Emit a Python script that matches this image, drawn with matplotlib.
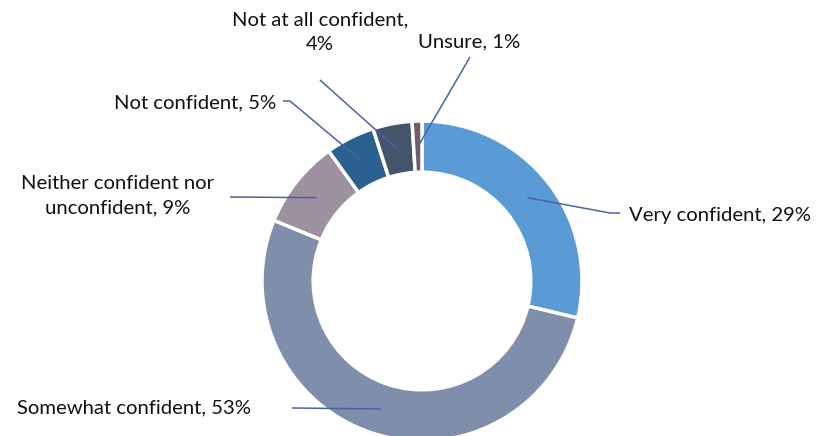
import numpy as np
import matplotlib.pyplot as plt

plt.rcParams["font.family"] = ["Lato", "DejaVu Sans"]

labels = ["Very confident", "Somewhat confident", "Neither confident nor\nunconfident",
          "Not confident", "Not at all confident,\n", "Unsure"]
values = [29, 53, 9, 5, 4, 1]
colors = ["#5b9bd5", "#7f8fab", "#9e919f", "#2c6090", "#44546a", "#6f5f64"]

# label layout in pixel space (x, y from top): text position, alignment, elbow points
layout = [
    dict(text=(629, 215), ha="left", path=[(610, 213), (620, 213)]),
    dict(text=(17, 408), ha="left", path=[(292, 408)]),
    dict(text=(118, 196), ha="center", path=[(230, 197)]),
    dict(text=(276, 103), ha="right", path=[(290, 101), (283, 101)]),
    dict(text=(320, 32), ha="center", path=[(320, 80)]),
    dict(text=(418, 42), ha="left", path=[(470, 57)]),
]

W, H = 817, 436
cx, cy, R = 422, 281, 160

fig = plt.figure(figsize=(W / 100, H / 100), dpi=100)
ax = fig.add_axes([0, 0, 1, 1])
ax.set_xlim(0, W)
ax.set_ylim(0, H)
ax.axis("off")

wedges, _ = ax.pie(values, colors=colors, startangle=90, counterclock=False,
                   center=(cx, H - cy), radius=R,
                   wedgeprops=dict(width=R * 0.32, edgecolor="white", linewidth=2.5))
ax.set_xlim(0, W)
ax.set_ylim(0, H)

for w, lab, val, lay in zip(wedges, labels, values, layout):
    ang = np.deg2rad((w.theta1 + w.theta2) / 2)
    r = R * 0.84
    x0 = cx + r * np.cos(ang)
    y0 = (H - cy) + r * np.sin(ang)
    xs = [x0] + [p[0] for p in lay["path"]]
    ys = [y0] + [H - p[1] for p in lay["path"]]
    ax.plot(xs, ys, color="#4a62a6", lw=1.1, solid_capstyle="butt")
    if lab.endswith("\n"):
        txt = f"{lab[:-1]}\n{val}%"
    else:
        txt = f"{lab}, {val}%"
    ax.text(lay["text"][0], H - lay["text"][1], txt, ha=lay["ha"], va="center",
            fontsize=14.6, color="#111111", linespacing=1.55,
            multialignment="center")

fig.savefig("out.png", dpi=100, facecolor="white")
